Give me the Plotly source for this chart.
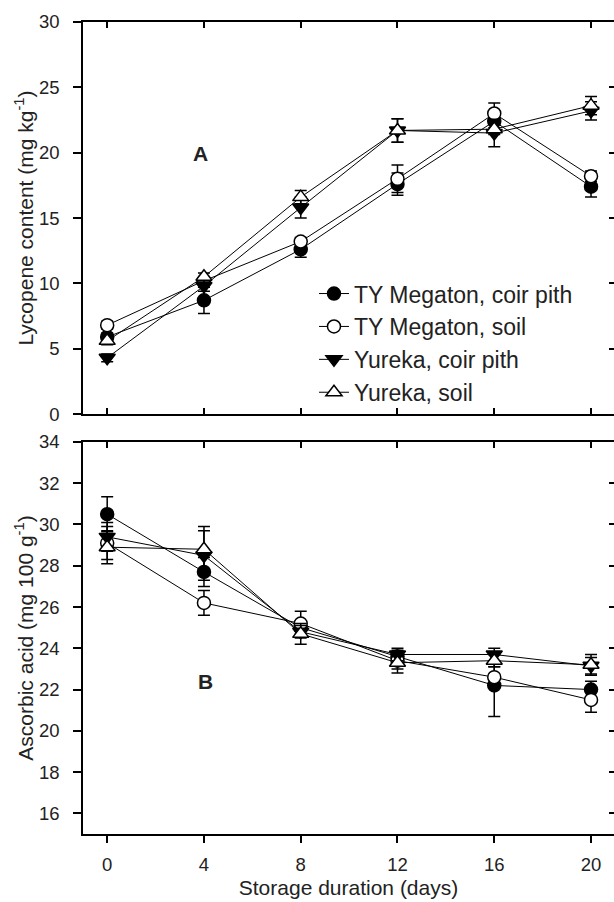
import plotly.graph_objects as go

days = [0, 4, 8, 12, 16, 20]
series_names = ["TY Megaton, coir pith", "TY Megaton, soil", "Yureka, coir pith", "Yureka, soil"]

# Panel A: lycopene (mg kg-1)
lyc_tym_coir = [5.9, 8.7, 12.6, 17.6, 22.4, 17.4]
lyc_tym_soil = [6.8, 10.2, 13.2, 18.0, 23.0, 18.2]
lyc_yur_coir = [4.3, 9.8, 15.8, 21.7, 21.5, 23.2]
lyc_yur_soil = [5.6, 10.5, 16.6, 21.7, 21.8, 23.6]
lyc_tym_coir_err = [0.3, 1.0, 0.6, 0.85, 0.5, 0.8]
lyc_tym_soil_err = [0.3, 0.3, 0.3, 1.05, 0.8, 0.4]
lyc_yur_coir_err = [0.3, 0.4, 0.8, 0.9, 1.05, 0.7]
lyc_yur_soil_err = [0.3, 0.3, 0.5, 0.9, 0.4, 0.7]

# Panel B: ascorbic acid (mg 100 g-1)
asc_tym_coir = [30.5, 27.7, 25.0, 23.6, 22.2, 22.0]
asc_tym_soil = [29.1, 26.2, 25.2, 23.4, 22.6, 21.5]
asc_yur_coir = [29.4, 28.5, 24.8, 23.7, 23.7, 23.15]
asc_yur_soil = [28.9, 28.8, 24.7, 23.3, 23.4, 23.2]
asc_tym_coir_err = [0.85, 0.7, 0.3, 0.3, 1.5, 0.4]
asc_tym_soil_err = [0.8, 0.6, 0.6, 0.4, 0.5, 0.6]
asc_yur_coir_err = [0.7, 1.2, 0.3, 0.3, 0.3, 0.4]
asc_yur_soil_err = [0.8, 1.1, 0.5, 0.5, 0.3, 0.5]

lyc_ticks = [0, 5, 10, 15, 20, 25, 30]
asc_ticks = [16, 18, 20, 22, 24, 26, 28, 30, 32, 34]

FONT = "Liberation Sans, Arial, sans-serif"
styles = [
    dict(symbol="circle", color="black", size=13),
    dict(symbol="circle", color="white", size=13),
    dict(symbol="triangle-down", color="black", size=14),
    dict(symbol="triangle-up", color="white", size=14),
]

fig = go.Figure()

lyc = [lyc_tym_coir, lyc_tym_soil, lyc_yur_coir, lyc_yur_soil]
lyc_err = [lyc_tym_coir_err, lyc_tym_soil_err, lyc_yur_coir_err, lyc_yur_soil_err]
asc = [asc_tym_coir, asc_tym_soil, asc_yur_coir, asc_yur_soil]
asc_err = [asc_tym_coir_err, asc_tym_soil_err, asc_yur_coir_err, asc_yur_soil_err]

for i, name in enumerate(series_names):
    st = styles[i]
    marker = dict(symbol=st["symbol"], color=st["color"], size=st["size"],
                  line=dict(color="black", width=1.5))
    fig.add_trace(go.Scatter(
        x=days, y=lyc[i], name=name, mode="lines+markers",
        line=dict(color="black", width=1), marker=marker,
        error_y=dict(type="data", array=lyc_err[i], color="black", thickness=1.5, width=6),
        xaxis="x", yaxis="y", showlegend=True))
for i, name in enumerate(series_names):
    st = styles[i]
    marker = dict(symbol=st["symbol"], color=st["color"], size=st["size"],
                  line=dict(color="black", width=1.5))
    fig.add_trace(go.Scatter(
        x=days, y=asc[i], name=name, mode="lines+markers",
        line=dict(color="black", width=1), marker=marker,
        error_y=dict(type="data", array=asc_err[i], color="black", thickness=1.5, width=6),
        xaxis="x2", yaxis="y2", showlegend=False))

# empty helper traces so that the tick-only overlay axes are drawn
for xa, ya in [("x", "y3"), ("x2", "y4"), ("x3", "y2")]:
    fig.add_trace(go.Scatter(x=[None], y=[None], xaxis=xa, yaxis=ya, mode="markers",
                             showlegend=False, hoverinfo="skip"))

xr = [-1.0, 20.95]
axis_common = dict(showgrid=False, zeroline=False, linecolor="black", linewidth=1.5,
                   tickcolor="black", tickwidth=1.5,
                   tickfont=dict(family=FONT, size=18.5, color="#222"))
tick_only = dict(visible=True, showticklabels=False, showline=False, showgrid=False,
                 zeroline=False, tickcolor="black", tickwidth=1.5)
title_font = dict(family=FONT, size=21, color="#222")

fig.update_layout(
    width=614, height=902,
    margin=dict(l=83, r=0, t=22, b=68),
    paper_bgcolor="white", plot_bgcolor="white",
    font=dict(family=FONT, color="#222"),
    xaxis=dict(domain=[0, 1], anchor="y", range=xr, tickvals=days, showticklabels=False,
               ticks="inside", ticklen=6, showline=True, mirror="ticks", **axis_common),
    yaxis=dict(domain=[0.5172, 1], anchor="x", range=[0, 30], tickvals=lyc_ticks,
               ticks="outside", ticklen=8, ticklabelstandoff=10, showline=True,
               title=dict(text="Lycopene content (mg kg<sup>-1</sup>)", font=title_font, standoff=0),
               **axis_common),
    yaxis3=dict(overlaying="y", anchor="x", side="right", range=[0, 30], tickvals=lyc_ticks,
                ticks="inside", ticklen=5, **tick_only),
    xaxis2=dict(domain=[0, 1], anchor="y2", range=xr, tickvals=days,
                ticks="outside", ticklen=7, ticklabelstandoff=6, showline=True, mirror=True,
                title=dict(text="Storage duration (days)", font=title_font, standoff=6),
                **axis_common),
    xaxis3=dict(overlaying="x2", anchor="y2", side="top", range=xr, tickvals=days,
                ticks="inside", ticklen=6, **tick_only),
    yaxis2=dict(domain=[0, 0.4828], anchor="x2", range=[15, 34], tickvals=asc_ticks,
                ticks="outside", ticklen=8, ticklabelstandoff=10, showline=True,
                title=dict(text="Ascorbic acid (mg 100 g<sup>-1</sup>)", font=title_font, standoff=0),
                **axis_common),
    yaxis4=dict(overlaying="y2", anchor="x2", side="right", range=[15, 34], tickvals=asc_ticks,
                ticks="inside", ticklen=5, **tick_only),
    legend=dict(x=0.435, y=0.692, xanchor="left", yanchor="top",
                bgcolor="rgba(0,0,0,0)", borderwidth=0,
                font=dict(family=FONT, size=23, color="#222"),
                tracegroupgap=0, itemwidth=30),
    annotations=[
        dict(text="<b>A</b>", x=3.85, y=19.95, xref="x", yref="y", showarrow=False,
             font=dict(family=FONT, size=21, color="#222")),
        dict(text="<b>B</b>", x=4.05, y=22.4, xref="x2", yref="y2", showarrow=False,
             font=dict(family=FONT, size=21, color="#222")),
    ],
)

fig.write_html("out.html")
